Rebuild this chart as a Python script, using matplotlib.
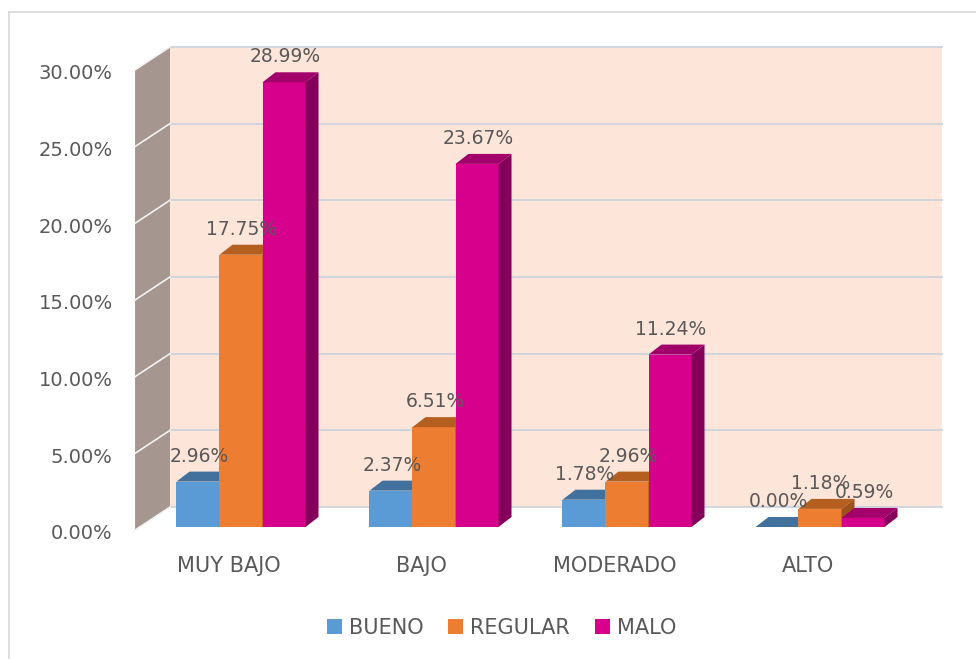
# Barras pseudo-3D: nivel por categoría
import matplotlib.pyplot as plt
from matplotlib.patches import Polygon, Patch
from matplotlib.lines import Line2D

# datos
categorias = ["MUY BAJO", "BAJO", "MODERADO", "ALTO"]
series = ["BUENO", "REGULAR", "MALO"]
bueno = [2.96, 2.37, 1.78, 0.00]
regular = [17.75, 6.51, 2.96, 1.18]
malo = [28.99, 23.67, 11.24, 0.59]
ticks_y = [0, 5, 10, 15, 20, 25, 30]

# colores (frente, tapa, lado)
col_front = ["#5b9bd5", "#ed7d31", "#d6008c"]
col_top = ["#41719c", "#b45f1f", "#a2006a"]
col_side = ["#3a6590", "#9c521a", "#84005a"]
texto = "#595959"

fig = plt.figure(figsize=(9.76, 6.59), dpi=100)
ax = fig.add_axes([0, 0, 1, 1])
# escala: 1 categoría = 193 px, 1 % = 15.34 px
ax.set_xlim(-241 / 193, (976 - 241) / 193)
ax.set_ylim((527 - 659) / 15.34, 527 / 15.34)
ax.axis("off")

w = 0.2228        # ancho de barra
ddx, ddy = 0.0674, 0.652   # profundidad de barras
wdx, wdy = 0.181, 1.5      # profundidad de las paredes
xs, xr, v0 = -0.549, 3.632, -0.2
top = max(ticks_y)

# pared lateral y pared de fondo
ax.add_patch(Polygon([(xs, v0), (xs + wdx, v0 + wdy), (xs + wdx, v0 + wdy + top), (xs, v0 + top)],
                     closed=True, facecolor="#a69690", edgecolor="none", zorder=1))
ax.add_patch(Polygon([(xs + wdx, v0 + wdy), (xr, v0 + wdy), (xr, v0 + wdy + top), (xs + wdx, v0 + wdy + top)],
                     closed=True, facecolor="#fde5d9", edgecolor="none", zorder=1))
for t in ticks_y:
    ax.plot([xs + wdx, xr], [v0 + wdy + t] * 2, color="#cdd4dc", lw=1.3, zorder=2)
    ax.plot([xs, xs + wdx], [v0 + t, v0 + wdy + t], color="#f2f2f2", lw=1.2, zorder=2)
    ax.text(xs - 0.115, t - 0.45, f"{t:.2f}%", ha="right", va="center", fontsize=14, color=texto)

# barras
for i in range(len(categorias)):
    for j, vals in enumerate([bueno, regular, malo]):
        h = vals[i]
        x0 = i + (j - 1.5) * w
        x1 = x0 + w
        z = 3 + j
        ax.add_patch(Polygon([(x0, 0), (x1, 0), (x1, h), (x0, h)], closed=True,
                             facecolor=col_front[j], edgecolor="none", zorder=z))
        ax.add_patch(Polygon([(x0, h), (x1, h), (x1 + ddx, h + ddy), (x0 + ddx, h + ddy)], closed=True,
                             facecolor=col_top[j], edgecolor="none", zorder=z))
        ax.add_patch(Polygon([(x1, 0), (x1 + ddx, ddy), (x1 + ddx, h + ddy), (x1, h)], closed=True,
                             facecolor=col_side[j], edgecolor="none", zorder=z))
        ax.text((x0 + x1) / 2 + 0.005, h + 1.65, f"{h:.2f}%", ha="center", va="center",
                fontsize=13.5, color=texto, zorder=10)
    ax.text(i - 0.065, -2.54, categorias[i], ha="center", va="center", fontsize=15, color=texto)

# leyenda
handles = [Patch(facecolor=c, edgecolor="none", label=s) for c, s in zip(col_front, series)]
leg = fig.legend(handles=handles, loc="center", bbox_to_anchor=(0.514, 0.047), ncol=3, frameon=False,
                 fontsize=15, handlelength=0.7, handleheight=0.7, handletextpad=0.35, columnspacing=1.2)
for t in leg.get_texts():
    t.set_color(texto)

# borde del gráfico
fig.add_artist(Line2D([9 / 976, 9 / 976], [0, 1 - 12 / 659], color="#d9d9d9", lw=1.2))
fig.add_artist(Line2D([9 / 976, 1], [1 - 12 / 659, 1 - 12 / 659], color="#d9d9d9", lw=1.2))

fig.savefig("out.png", dpi=100)
